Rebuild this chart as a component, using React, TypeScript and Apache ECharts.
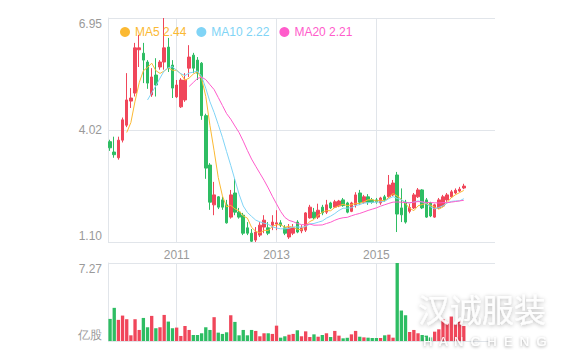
import React, { useEffect, useRef } from 'react';
import * as echarts from 'echarts';

// ---- categories: monthly slots starting 2009-09 ----
const startYear = 2009;
const startMonth = 9;
const slotCount = 93;
const months: string[] = [];
for (let k = 0; k < slotCount; k++) {
  const m = startMonth - 1 + k;
  months.push(`${startYear + Math.floor(m / 12)}-${String((m % 12) + 1).padStart(2, '0')}`);
}
const yearTicks = ['2011-01', '2013-01', '2015-01'];
const yearLabels = ['2011', '2013', '2015'];

// ---- candles: [open, close, low, high] ----
const candles: number[][] = [
  [3.72, 3.56, 3.48, 3.77], [3.45, 3.38, 3.30, 3.85], [3.30, 3.76, 3.25, 3.85], [3.76, 4.29, 3.70, 4.35],
  [4.15, 4.81, 4.10, 5.51], [4.78, 4.86, 4.60, 5.12], [4.99, 6.17, 4.90, 6.30], [6.12, 6.17, 5.67, 6.51],
  [6.03, 5.85, 5.25, 6.30], [5.80, 5.25, 5.10, 5.85], [4.94, 5.41, 4.89, 5.64], [5.46, 5.20, 4.90, 5.90],
  [5.67, 5.80, 5.60, 5.85], [5.80, 6.17, 5.60, 6.95], [6.19, 5.64, 5.54, 6.43], [5.72, 5.12, 4.86, 5.85],
  [4.89, 5.20, 4.86, 5.33], [4.63, 5.33, 4.60, 5.38], [4.81, 5.33, 4.76, 5.51], [5.64, 5.93, 5.41, 6.24],
  [5.98, 5.64, 5.51, 6.04], [5.85, 5.51, 5.33, 5.93], [5.77, 4.40, 4.29, 5.80], [4.40, 3.03, 2.75, 4.45],
  [3.11, 2.14, 1.94, 3.16], [2.07, 2.33, 1.80, 2.67], [2.28, 2.01, 1.96, 2.30], [2.20, 2.01, 1.94, 2.28],
  [2.07, 1.60, 1.58, 2.20], [1.75, 2.33, 1.71, 2.46], [2.38, 1.88, 1.80, 2.75], [1.88, 1.75, 1.71, 1.99],
  [1.80, 1.33, 1.28, 1.86], [1.47, 1.33, 1.28, 1.62], [1.33, 1.12, 1.10, 1.44], [1.15, 1.36, 1.10, 1.49],
  [1.28, 1.54, 1.23, 1.62], [1.49, 1.67, 1.33, 1.80], [1.47, 1.33, 1.28, 1.62], [1.54, 1.62, 1.41, 1.80],
  [1.57, 1.60, 1.41, 1.93], [1.60, 1.54, 1.49, 1.67], [1.47, 1.33, 1.28, 1.54], [1.23, 1.47, 1.18, 1.57],
  [1.33, 1.47, 1.28, 1.57], [1.62, 1.36, 1.33, 1.67], [1.39, 1.47, 1.33, 1.54], [1.41, 1.86, 1.36, 1.88],
  [1.73, 2.01, 1.71, 2.07], [1.88, 1.73, 1.70, 1.99], [1.75, 1.93, 1.70, 2.10], [2.01, 1.86, 1.80, 2.07],
  [1.88, 2.07, 1.83, 2.20], [2.12, 1.99, 1.96, 2.15], [2.01, 2.15, 1.99, 2.20], [2.04, 2.17, 2.01, 2.20],
  [2.20, 2.05, 2.02, 2.25], [2.12, 1.88, 1.85, 2.15], [1.90, 2.12, 1.88, 2.15], [2.07, 2.33, 2.00, 2.40],
  [2.38, 2.14, 2.07, 2.46], [2.14, 2.28, 2.10, 2.33], [2.28, 2.14, 2.07, 2.35], [2.20, 2.14, 2.10, 2.25],
  [2.20, 2.15, 2.10, 2.25], [2.12, 2.25, 2.07, 2.28], [2.28, 2.20, 2.15, 2.33], [2.28, 2.59, 2.25, 2.85],
  [2.33, 2.64, 2.30, 2.72], [2.85, 1.83, 1.36, 2.93], [1.99, 1.81, 1.62, 2.50], [2.14, 1.62, 1.58, 2.20],
  [1.90, 2.00, 1.85, 2.10], [1.99, 2.33, 1.96, 2.38], [2.28, 2.46, 2.25, 2.51], [2.46, 1.99, 1.96, 2.48],
  [2.20, 1.75, 1.73, 2.25], [2.12, 1.78, 1.75, 2.15], [1.75, 2.07, 1.73, 2.10], [1.99, 2.20, 1.96, 2.25],
  [2.04, 2.28, 2.01, 2.33], [2.20, 2.33, 2.15, 2.38], [2.28, 2.41, 2.25, 2.46], [2.38, 2.45, 2.35, 2.50],
  [2.43, 2.48, 2.40, 2.54], [2.51, 2.56, 2.48, 2.62],
];

// ---- volume (亿股) ----
const volumes: number[] = [
  2.06, 3.09, 1.97, 2.37, 2.03, 0.53, 2.03, 1.03, 2.15, 1.28, 2.34, 1.19, 1.28, 2.43, 1.81, 1.19,
  1.25, 0.47, 1.40, 1.03, 0.56, 0.56, 0.72, 1.28, 1.03, 2.22, 0.78, 0.66, 0.81, 2.40, 1.78, 0.53,
  1.03, 0.53, 1.03, 0.94, 0.44, 0.72, 0.72, 0.66, 1.43, 0.31, 0.44, 0.59, 0.66, 1.00, 0.44, 0.90,
  0.37, 0.62, 0.40, 0.56, 0.72, 0.37, 0.94, 0.50, 0.25, 0.30, 0.62, 0.94, 0.40, 0.34, 0.31, 0.28,
  0.28, 0.28, 0.53, 0.59, 0.31, 7.27, 2.84, 2.40, 0.84, 1.03, 0.72, 0.56, 0.50, 0.34, 0.87, 1.09,
  2.03, 1.65, 2.28, 1.53, 1.81, 1.40,
];

const priceMin = 1.10;
const priceMax = 6.95;
const priceTickLabels = ['1.10', '4.02', '6.95'];
const volMax = 7.27;
const volTickLabels = ['亿股', '7.27'];

const maPeriods = [5, 10, 20];
const maNames = ['MA5', 'MA10', 'MA20'];
const maLegendValues = ['2.44', '2.22', '2.21'];
const maColors = ['#fbb933', '#80d4f6', '#ff5ccb'];

const upColor = '#f0465a';
const downColor = '#2ebd63';
const gridColor = '#e1e5ea';
const labelColor = '#9a9a9a';

function movingAverage(n: number): (number | string)[] {
  return candles.map((_, i) => {
    if (i < n - 1) return '-';
    let s = 0;
    for (let k = i - n + 1; k <= i; k++) s += candles[k][1];
    return +(s / n).toFixed(3);
  });
}

export default function App() {
  const ref = useRef<HTMLDivElement>(null);
  useEffect(() => {
    if (!ref.current) return;
    const chart = echarts.init(ref.current, undefined, { renderer: 'svg' });
    const yearInterval = (_i: number, v: string) => yearTicks.indexOf(v) >= 0;
    const font = 'Liberation Sans, Arial, sans-serif';
    const xBase = (gridIndex: number, showLabel: boolean) => ({
      type: 'category',
      gridIndex,
      data: months,
      boundaryGap: true,
      axisLine: { show: false },
      axisTick: { show: false },
      axisLabel: {
        show: showLabel,
        interval: yearInterval,
        color: labelColor,
        fontSize: 12,
        fontFamily: font,
        margin: 7,
        formatter: (v: string) => yearLabels[yearTicks.indexOf(v)] ?? '',
      },
      splitLine: {
        show: true,
        interval: yearInterval,
        alignWithLabel: true,
        lineStyle: { color: gridColor, width: 1 },
      },
    });
    const option: any = {
      animation: false,
      backgroundColor: '#fff',
      textStyle: { fontFamily: font },
      legend: {
        left: 115,
        top: 21,
        icon: 'circle',
        itemWidth: 10,
        itemHeight: 10,
        itemGap: 10,
        selectedMode: false,
        textStyle: { fontSize: 12, fontFamily: font },
        formatter: (name: string) => `${name} ${maLegendValues[maNames.indexOf(name)]}`,
        data: maNames.map((n, i) => ({ name: n, textStyle: { color: maColors[i] } })),
      },
      grid: [
        { left: 108, top: 18, width: 387, height: 224 },
        { left: 108, top: 263, width: 387, height: 78 },
      ],
      xAxis: [xBase(0, true), xBase(1, false)],
      yAxis: [
        {
          type: 'value',
          gridIndex: 0,
          min: priceMin,
          max: priceMax,
          interval: (priceMax - priceMin) / 2,
          axisLine: { show: true, lineStyle: { color: gridColor } },
          axisTick: { show: false },
          axisLabel: {
            color: labelColor,
            fontSize: 12,
            fontFamily: font,
            margin: 6,
            verticalAlignMinLabel: 'bottom',
            verticalAlignMaxLabel: 'top',
            formatter: (_v: number, idx: number) => priceTickLabels[idx] ?? '',
          },
          splitLine: { show: true, lineStyle: { color: gridColor } },
        },
        {
          type: 'value',
          gridIndex: 1,
          min: 0,
          max: volMax,
          interval: volMax,
          axisLine: { show: true, lineStyle: { color: gridColor } },
          axisTick: { show: false },
          axisLabel: {
            color: labelColor,
            fontSize: 12,
            fontFamily: font,
            margin: 6,
            verticalAlignMinLabel: 'bottom',
            verticalAlignMaxLabel: 'top',
            formatter: (_v: number, idx: number) => volTickLabels[idx] ?? '',
          },
          splitLine: { show: true, lineStyle: { color: gridColor } },
        },
      ],
      series: [
        {
          type: 'candlestick',
          name: 'K',
          xAxisIndex: 0,
          yAxisIndex: 0,
          barWidth: '72%',
          data: candles,
          itemStyle: {
            color: upColor,
            color0: downColor,
            borderColor: upColor,
            borderColor0: downColor,
            borderWidth: 1,
          },
        },
        ...maPeriods.map((p, i) => ({
          type: 'line',
          name: maNames[i],
          xAxisIndex: 0,
          yAxisIndex: 0,
          data: movingAverage(p),
          showSymbol: false,
          symbol: 'none',
          smooth: false,
          color: maColors[i],
          lineStyle: { width: 1, color: maColors[i] },
          z: 3,
        })),
        {
          type: 'bar',
          name: 'VOL',
          xAxisIndex: 1,
          yAxisIndex: 1,
          barWidth: '80%',
          data: volumes.map((v, i) => ({
            value: v,
            itemStyle: { color: candles[i][1] > candles[i][0] ? upColor : downColor },
          })),
        },
      ],
      graphic: [
        {
          type: 'text',
          left: 418,
          top: 292,
          z: 100,
          silent: true,
          style: {
            text: '汉诚服装',
            font: '32px "Noto Sans CJK SC", sans-serif',
            fill: 'rgba(255,255,255,0.9)',
            textShadowColor: 'rgba(0,0,0,0.35)',
            textShadowBlur: 4,
            textShadowOffsetY: 1,
          },
        },
        {
          type: 'text',
          left: 423,
          top: 335,
          z: 100,
          silent: true,
          style: {
            text: 'H  A  N  C  H  E  N  G',
            font: '13px "Liberation Sans", Arial, sans-serif',
            fill: 'rgba(255,255,255,0.95)',
            textShadowColor: 'rgba(0,0,0,0.45)',
            textShadowBlur: 3,
            textShadowOffsetY: 1,
          },
        },
      ],
    };
    chart.setOption(option);
    return () => chart.dispose();
  }, []);
  return <div ref={ref} style={{ position: 'fixed', left: 0, top: 0, width: 563, height: 360 }} />;
}
